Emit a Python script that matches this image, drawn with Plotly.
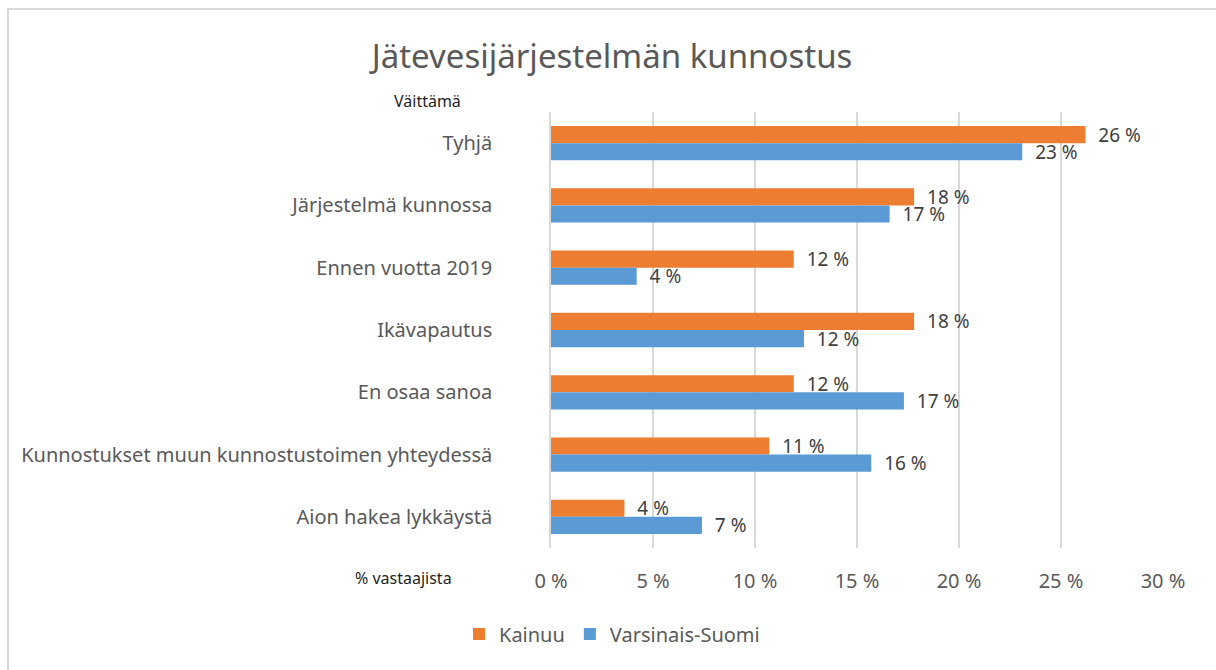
import plotly.graph_objects as go

categories = ["Tyhjä", "Järjestelmä kunnossa", "Ennen vuotta 2019", "Ikävapautus",
              "En osaa sanoa", "Kunnostukset muun kunnostustoimen yhteydessä", "Aion hakea lykkäystä"]
kainuu = [26.2, 17.8, 11.9, 17.8, 11.9, 10.7, 3.6]
varsinais = [23.1, 16.6, 4.2, 12.4, 17.3, 15.7, 7.4]
tick_vals = [0, 5, 10, 15, 20, 25, 30]
tick_text = ["0 %", "5 %", "10 %", "15 %", "20 %", "25 %", "30 %"]

W, H = 1216, 670
L, R, T, B = 551, 53, 112, 122
PW, PH = W - L - R, H - T - B

def px(x):
    return (x - L) / PW

def py(y):
    return 1 - (y - T) / PH

FONT = "Noto Sans"
ORANGE = "#ED7D31"
BLUE = "#5B9BD5"
GAP = "\u00a0\u00a0"

fig = go.Figure()
fig.add_trace(go.Bar(
    y=categories, x=kainuu, name="Kainuu", orientation="h",
    marker=dict(color=ORANGE, line=dict(width=0)),
    text=[f"{GAP}{round(v)} %" for v in kainuu], textposition="outside",
    constraintext="none",
    textfont=dict(family=FONT, size=19, color="#404040"), cliponaxis=False,
))
fig.add_trace(go.Bar(
    y=categories, x=varsinais, name="Varsinais-Suomi", orientation="h",
    marker=dict(color=BLUE, line=dict(width=0)),
    text=[f"{GAP}{round(v)} %" for v in varsinais], textposition="outside",
    constraintext="none",
    textfont=dict(family=FONT, size=19, color="#404040"), cliponaxis=False,
))

fig.update_layout(
    width=W, height=H,
    margin=dict(l=L, r=R, t=T, b=B),
    barmode="group", bargap=0.45, bargroupgap=0,
    paper_bgcolor="white", plot_bgcolor="white",
    font=dict(family=FONT, color="#595959"),
    title=dict(text="Jätevesijärjestelmän kunnostus", x=612 / W,
               xanchor="center", y=1 - 56 / H, yanchor="middle",
               font=dict(family=FONT, size=33, color="#595959")),
    xaxis=dict(range=[0, 30], tickvals=tick_vals, ticktext=tick_text,
               showgrid=True, gridcolor="#d9d9d9", gridwidth=1.5,
               zeroline=False, showline=False,
               tickfont=dict(family=FONT, size=20, color="#595959"),
               ticks="outside", ticklen=0, ticklabelstandoff=15),
    yaxis=dict(autorange="reversed", showgrid=False, zeroline=False,
               showline=True, linecolor="#d9d9d9", linewidth=1.5,
               tickfont=dict(family=FONT, size=20, color="#595959"),
               ticks="", ticklabelstandoff=53),
    legend=dict(orientation="h", x=(612 - L) / PW, xanchor="center",
                y=py(634), yanchor="middle",
                font=dict(family=FONT, size=20, color="#595959"),
                itemwidth=30, traceorder="normal"),
    shapes=[dict(type="rect", xref="paper", yref="paper",
                 x0=px(8), x1=px(1240), y0=py(700), y1=py(9),
                 line=dict(color="#d9d9d9", width=2), layer="below")],
    annotations=[
        dict(text="Väittämä", xref="paper", yref="paper", x=px(427), y=py(101),
             xanchor="center", yanchor="middle", showarrow=False,
             font=dict(family=FONT, size=16, color="#1f1f1f")),
        dict(text="% vastaajista", xref="paper", yref="paper", x=px(403), y=py(578),
             xanchor="center", yanchor="middle", showarrow=False,
             font=dict(family=FONT, size=16, color="#1f1f1f")),
    ],
)

fig.write_html("out.html", config={"displayModeBar": False},
               post_script="document.body.style.margin='0';document.body.style.padding='0';")
